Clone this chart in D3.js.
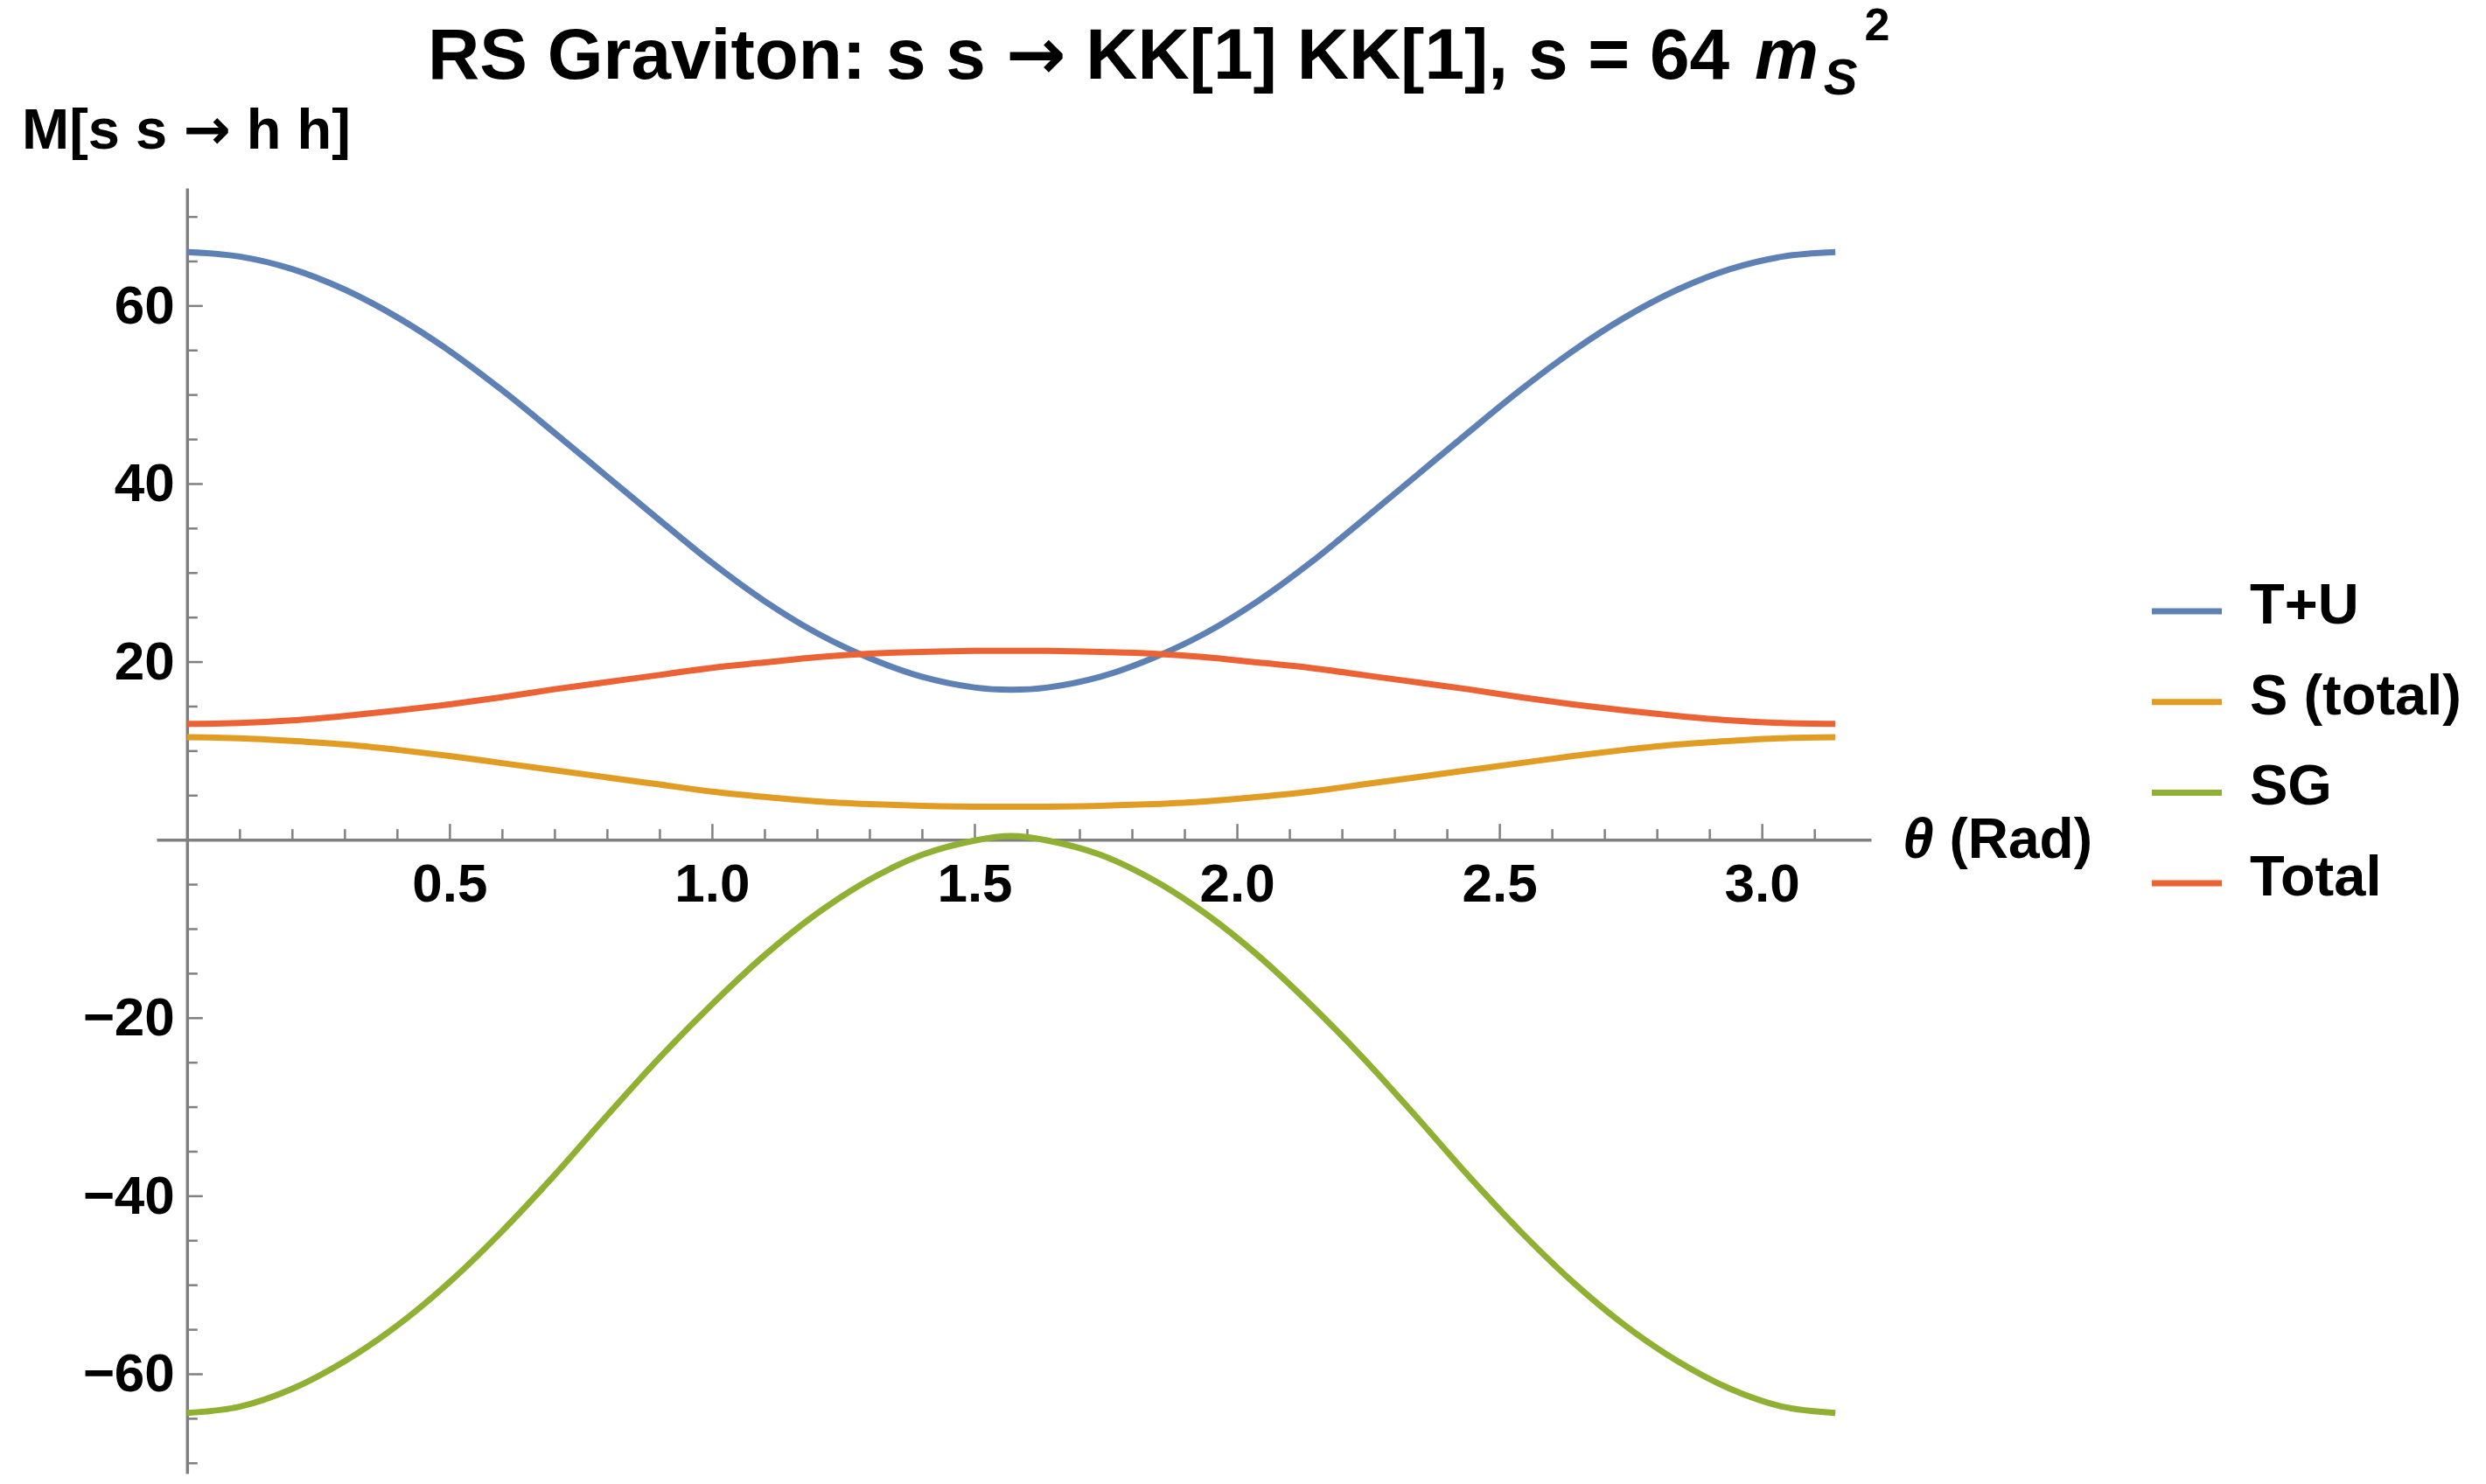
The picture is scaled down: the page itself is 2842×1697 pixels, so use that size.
<!DOCTYPE html>
<html>
<head>
<meta charset="utf-8">
<script src="https://cdn.jsdelivr.net/npm/d3@7"></script>
<style>
  body { margin: 0; background: #fff; }
  text { font-family: "Liberation Sans", Arial, sans-serif; font-weight: bold; fill: #000; }
  .arrow { font-family: "DejaVu Sans", sans-serif; }
</style>
</head>
<body>
<div id="chart"></div>
<script>
// angle samples (rad) and the four amplitude curves
const theta = [0, 0.1, 0.2, 0.3, 0.4, 0.5, 0.6, 0.7, 0.8, 0.9, 1.0, 1.1, 1.2, 1.3, 1.4, 1.5, 1.57,
               1.64, 1.74, 1.84, 1.94, 2.04, 2.14, 2.24, 2.34, 2.44, 2.54, 2.64, 2.74, 2.84, 2.94, 3.04, 3.14];

const tuValues = [66.0, 65.5, 64.1, 61.8, 58.7, 54.9, 50.5, 45.7, 40.8, 35.9, 31.1, 26.8, 23.2, 20.4, 18.3, 17.1, 16.85,
                  17.1, 18.3, 20.4, 23.2, 26.8, 31.1, 35.9, 40.8, 45.7, 50.5, 54.9, 58.7, 61.8, 64.1, 65.5, 66.0];

const sTotalValues = [11.5, 11.4, 11.1, 10.7, 10.1, 9.4, 8.6, 7.8, 7.0, 6.2, 5.4, 4.8, 4.3, 4.0, 3.8, 3.7, 3.7,
                      3.7, 3.8, 4.0, 4.3, 4.8, 5.4, 6.2, 7.0, 7.8, 8.6, 9.4, 10.1, 10.7, 11.1, 11.4, 11.5];

const sgValues = [-64.4, -63.7, -61.7, -58.6, -54.6, -49.7, -44.0, -37.7, -31.0, -24.5, -18.5, -13.0, -8.3, -4.5, -1.7, -0.1, 0.4,
                  -0.1, -1.7, -4.5, -8.3, -13.0, -18.5, -24.5, -31.0, -37.7, -44.0, -49.7, -54.6, -58.6, -61.7, -63.7, -64.4];

const totalValues = [13.0, 13.1, 13.4, 13.9, 14.5, 15.2, 16.0, 16.9, 17.7, 18.5, 19.3, 19.9, 20.5, 20.9, 21.1, 21.2, 21.2,
                     21.2, 21.1, 20.9, 20.5, 19.9, 19.3, 18.5, 17.7, 16.9, 16.0, 15.2, 14.5, 13.9, 13.4, 13.1, 13.0];

const seriesNames = ["T+U", "S (total)", "SG", "Total"];
const seriesColors = ["#5E81B5", "#E19C24", "#8FB032", "#EB6235"];

const xTickLabels = [0.5, 1.0, 1.5, 2.0, 2.5, 3.0];
const yTickLabels = [-60, -40, -20, 20, 40, 60];

const width = 2842, height = 1697;
const axisColor = "#808080";

const svg = d3.select("#chart")
    .append("svg")
    .attr("width", width)
    .attr("height", height);

svg.append("rect").attr("width", width).attr("height", height).attr("fill", "#fff");

// scales: plot range padded a little beyond the data like Mathematica does
const x = d3.scaleLinear().domain([-0.058, 3.208]).range([179, 2139]);
const y = d3.scaleLinear().domain([-71.2, 73.2]).range([1685, 215]);

// minor / major ticks
const xMinor = d3.range(1, 32).map(i => i / 10).filter(v => Math.round(v * 10) % 5 !== 0);
const yMinor = d3.range(-70, 75, 5).filter(v => v !== 0 && v % 20 !== 0);

// x axis (ticks point up)
const xAxisG = svg.append("g").attr("transform", `translate(0,${y(0)})`);
xAxisG.append("g")
    .call(d3.axisTop(x).tickValues(xMinor).tickSize(12).tickSizeOuter(0).tickFormat(""));
xAxisG.append("g")
    .call(d3.axisTop(x).tickValues(xTickLabels).tickSize(18).tickSizeOuter(0).tickFormat(""))
    .select(".domain").remove();
xAxisG.append("g")
    .call(d3.axisBottom(x).tickValues(xTickLabels).tickSize(0).tickPadding(27).tickFormat(d3.format(".1f")))
    .call(g => g.select(".domain").remove())
    .selectAll("text")
    .style("font-size", "62px");

// y axis (ticks point right)
const yAxisG = svg.append("g").attr("transform", `translate(${x(0)},0)`);
yAxisG.append("g")
    .call(d3.axisRight(y).tickValues(yMinor).tickSize(12).tickSizeOuter(0).tickFormat(""));
yAxisG.append("g")
    .call(d3.axisRight(y).tickValues(yTickLabels).tickSize(18).tickSizeOuter(0).tickFormat(""))
    .select(".domain").remove();
yAxisG.append("g")
    .call(d3.axisLeft(y).tickValues(yTickLabels).tickSize(0).tickPadding(14).tickFormat(d3.format("d")))
    .call(g => g.select(".domain").remove())
    .selectAll("text")
    .style("font-size", "62px");

svg.selectAll(".domain").attr("stroke", axisColor).attr("stroke-width", 3.5);
svg.selectAll(".tick line").attr("stroke", axisColor).attr("stroke-width", 2.5);

// curves
const series = [tuValues, sTotalValues, sgValues, totalValues].map((vals, i) => ({
    name: seriesNames[i],
    color: seriesColors[i],
    points: theta.map((t, j) => [t, vals[j]])
}));

const line = d3.line()
    .x(d => x(d[0]))
    .y(d => y(d[1]))
    .curve(d3.curveCatmullRom.alpha(0.5));

svg.append("g")
    .selectAll("path")
    .data(series)
    .join("path")
    .attr("d", d => line(d.points))
    .attr("fill", "none")
    .attr("stroke", d => d.color)
    .attr("stroke-width", 7)
    .attr("stroke-linejoin", "round");

// title
const title = svg.append("text")
    .attr("x", 489)
    .attr("y", 90)
    .style("font-size", "82px");
title.append("tspan").text("RS Graviton: s s ");
title.append("tspan").attr("class", "arrow").text("\u2192");
title.append("tspan").text(" KK[1] KK[1], s = 64 ");
title.append("tspan").text("m").style("font-style", "italic").attr("dx", 6);
title.append("tspan").text("S").style("font-style", "italic").style("font-size", "58px").attr("dx", 6).attr("dy", 18);
title.append("tspan").text("2").style("font-size", "52px").attr("dx", 8).attr("dy", -62);

// axis labels
const yLabel = svg.append("text")
    .attr("x", 25)
    .attr("y", 170)
    .style("font-size", "65px");
yLabel.append("tspan").text("M[s s ");
yLabel.append("tspan").attr("class", "arrow").text("\u2192");
yLabel.append("tspan").text(" h h]");

const xLabel = svg.append("text")
    .attr("x", 2175)
    .attr("y", 981)
    .style("font-size", "64px");
xLabel.append("tspan").text("\u03b8").style("font-style", "italic");
xLabel.append("tspan").text(" (Rad)");

// legend
const legend = svg.append("g")
    .selectAll("g")
    .data(series)
    .join("g")
    .attr("transform", (d, i) => `translate(2460,${699 + i * 103.7})`);

legend.append("line")
    .attr("x1", 0).attr("x2", 80)
    .attr("stroke", d => d.color)
    .attr("stroke-width", 7);

legend.append("text")
    .attr("x", 112)
    .attr("y", 14)
    .style("font-size", "65px")
    .text(d => d.name);
</script>
</body>
</html>
